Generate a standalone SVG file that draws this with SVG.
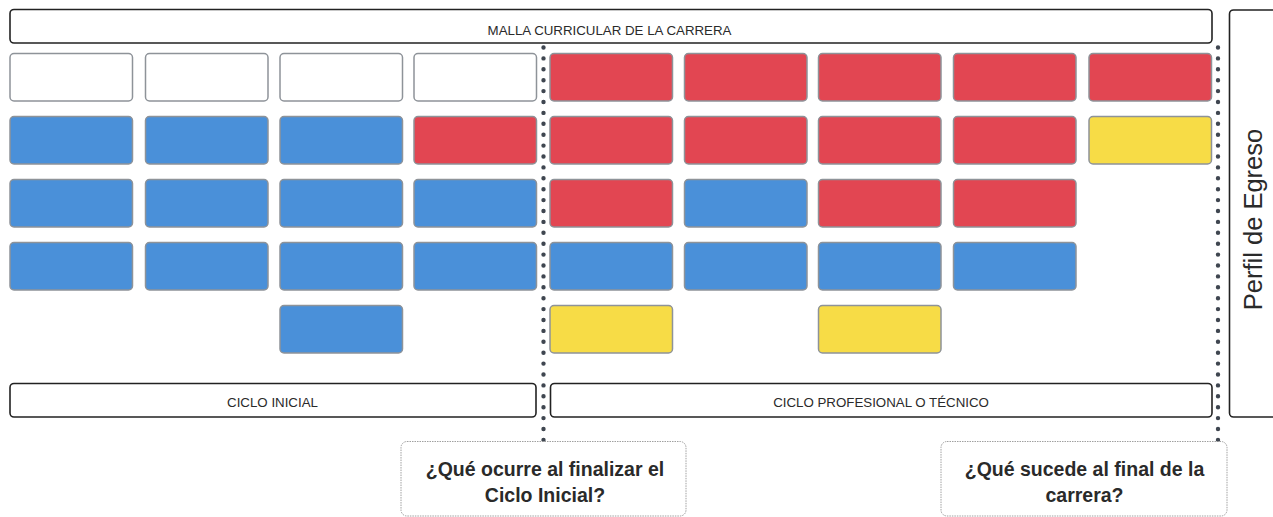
<svg xmlns="http://www.w3.org/2000/svg" width="1273" height="517" viewBox="0 0 1273 517">
<style>
.frame{fill:#fff;stroke:#222;stroke-width:1.6}
.c{stroke:#8e9399;stroke-width:1.5}
.w{fill:#fff}.r{fill:#e24652}.b{fill:#4a90d9}.y{fill:#f7dc46}
.lbl{font-family:"Liberation Sans",Arial,sans-serif;font-size:13.3px;fill:#2a2a2a;text-anchor:middle}
.q{fill:#fff;stroke:#888;stroke-width:0.8;stroke-dasharray:1.5 1}
.qt{font-family:"Liberation Sans",Arial,sans-serif;font-weight:bold;font-size:19.5px;fill:#2a2a2a;text-anchor:middle}
.dot{fill:none;stroke:#3f4650;stroke-width:4.4;stroke-linecap:round;stroke-dasharray:0 10.9}
</style>
<g id="malla"><rect class="frame" x="10" y="9.5" width="1202" height="33.5" rx="4"/><text class="lbl" x="609.5" y="35">MALLA CURRICULAR DE LA CARRERA</text></g>
<g id="perfil"><rect class="frame" x="1229.5" y="10" width="60" height="407" rx="4"/><text x="1262" y="219.5" transform="rotate(-90 1262 219.5)" font-family="Liberation Sans,Arial,sans-serif" font-size="25.5" fill="#2a2a2a" text-anchor="middle">Perfil de Egreso</text></g>
<g id="cells">
<rect class="c w" x="10" y="53.5" width="122.5" height="47.5" rx="4"/>
<rect class="c w" x="145.5" y="53.5" width="122.5" height="47.5" rx="4"/>
<rect class="c w" x="280" y="53.5" width="122.5" height="47.5" rx="4"/>
<rect class="c w" x="414" y="53.5" width="122.5" height="47.5" rx="4"/>
<rect class="c r" x="550" y="53.5" width="122.5" height="47.5" rx="4"/>
<rect class="c r" x="684.5" y="53.5" width="122.5" height="47.5" rx="4"/>
<rect class="c r" x="818.5" y="53.5" width="122.5" height="47.5" rx="4"/>
<rect class="c r" x="953.5" y="53.5" width="122.5" height="47.5" rx="4"/>
<rect class="c r" x="1089" y="53.5" width="122.5" height="47.5" rx="4"/>

<rect class="c b" x="10" y="116.5" width="122.5" height="47.5" rx="4"/>
<rect class="c b" x="145.5" y="116.5" width="122.5" height="47.5" rx="4"/>
<rect class="c b" x="280" y="116.5" width="122.5" height="47.5" rx="4"/>
<rect class="c r" x="414" y="116.5" width="122.5" height="47.5" rx="4"/>
<rect class="c r" x="550" y="116.5" width="122.5" height="47.5" rx="4"/>
<rect class="c r" x="684.5" y="116.5" width="122.5" height="47.5" rx="4"/>
<rect class="c r" x="818.5" y="116.5" width="122.5" height="47.5" rx="4"/>
<rect class="c r" x="953.5" y="116.5" width="122.5" height="47.5" rx="4"/>
<rect class="c y" x="1089" y="116.5" width="122.5" height="47.5" rx="4"/>

<rect class="c b" x="10" y="179.5" width="122.5" height="47.5" rx="4"/>
<rect class="c b" x="145.5" y="179.5" width="122.5" height="47.5" rx="4"/>
<rect class="c b" x="280" y="179.5" width="122.5" height="47.5" rx="4"/>
<rect class="c b" x="414" y="179.5" width="122.5" height="47.5" rx="4"/>
<rect class="c r" x="550" y="179.5" width="122.5" height="47.5" rx="4"/>
<rect class="c b" x="684.5" y="179.5" width="122.5" height="47.5" rx="4"/>
<rect class="c r" x="818.5" y="179.5" width="122.5" height="47.5" rx="4"/>
<rect class="c r" x="953.5" y="179.5" width="122.5" height="47.5" rx="4"/>

<rect class="c b" x="10" y="242.5" width="122.5" height="47.5" rx="4"/>
<rect class="c b" x="145.5" y="242.5" width="122.5" height="47.5" rx="4"/>
<rect class="c b" x="280" y="242.5" width="122.5" height="47.5" rx="4"/>
<rect class="c b" x="414" y="242.5" width="122.5" height="47.5" rx="4"/>
<rect class="c b" x="550" y="242.5" width="122.5" height="47.5" rx="4"/>
<rect class="c b" x="684.5" y="242.5" width="122.5" height="47.5" rx="4"/>
<rect class="c b" x="818.5" y="242.5" width="122.5" height="47.5" rx="4"/>
<rect class="c b" x="953.5" y="242.5" width="122.5" height="47.5" rx="4"/>

<rect class="c b" x="280" y="305.5" width="122.5" height="47.5" rx="4"/>
<rect class="c y" x="550" y="305.5" width="122.5" height="47.5" rx="4"/>
<rect class="c y" x="818.5" y="305.5" width="122.5" height="47.5" rx="4"/>
</g>
<g id="ciclo-inicial"><rect class="frame" x="10" y="383.5" width="526" height="33.5" rx="4"/><text class="lbl" x="272.5" y="406.5">CICLO INICIAL</text></g>
<g id="ciclo-profesional"><rect class="frame" x="550.5" y="383.5" width="661.5" height="33.5" rx="4"/><text class="lbl" x="881" y="406.5">CICLO PROFESIONAL O TÉCNICO</text></g>
<g id="connectors">
<line class="dot" x1="543.5" y1="47.5" x2="543.5" y2="441"/>
<line class="dot" x1="1218" y1="47.5" x2="1218" y2="441"/>
</g>
<g id="q1"><rect class="q" x="401" y="441.5" width="285" height="74.5" rx="6"/><text class="qt" x="545" y="476">¿Qué ocurre al finalizar el</text><text class="qt" x="545" y="501.5">Ciclo Inicial?</text></g>
<g id="q2"><rect class="q" x="941" y="441.5" width="286" height="74.5" rx="6"/><text class="qt" x="1084.5" y="476">¿Qué sucede al final de la</text><text class="qt" x="1084.5" y="501.5">carrera?</text></g>
</svg>
